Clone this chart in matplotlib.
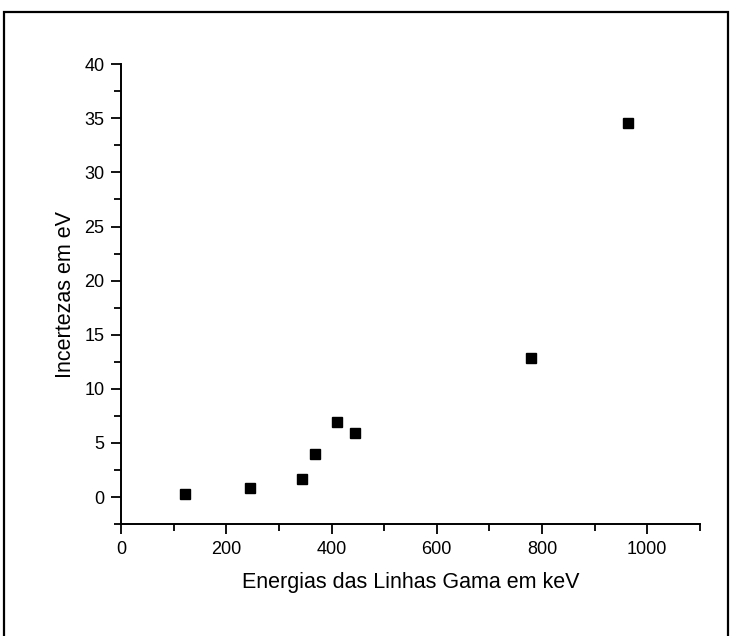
import matplotlib.pyplot as plt
from matplotlib.patches import Rectangle
from matplotlib.ticker import MultipleLocator

plt.rcParams['font.family'] = ['Liberation Sans', 'DejaVu Sans']

# Eu-152 gamma lines (keV) and their uncertainties (eV)
energias = [121.8, 244.7, 344.3, 367.8, 411.1, 444.0, 778.9, 964.1]
incertezas = [0.3, 0.8, 1.65, 3.95, 6.9, 5.9, 12.85, 34.6]

fig = plt.figure(figsize=(7.36, 6.36), dpi=100)
ax = fig.add_axes([0.1644, 0.176, 0.7866, 0.723])

ax.plot(energias, incertezas, linestyle='none', marker='s', color='black', markersize=6.5)

ax.set_xlim(0, 1100)
ax.set_ylim(-2.5, 40)
ax.xaxis.set_major_locator(MultipleLocator(200))
ax.xaxis.set_minor_locator(MultipleLocator(100))
ax.yaxis.set_major_locator(MultipleLocator(5))
ax.yaxis.set_minor_locator(MultipleLocator(2.5))
ax.set_xticks([0, 200, 400, 600, 800, 1000])

for side in ('top', 'right'):
    ax.spines[side].set_visible(False)
for side in ('left', 'bottom'):
    ax.spines[side].set_linewidth(1.4)

ax.tick_params(which='major', direction='out', length=7, width=1.3, labelsize=13, pad=5)
ax.tick_params(which='minor', direction='out', length=5, width=1.3)

ax.set_xlabel('Energias das Linhas Gama em keV', fontsize=15.5, labelpad=10)
ax.set_ylabel('Incertezas em eV', fontsize=15.5, labelpad=6)

# scanned page frame around the chart
fig.patches.append(Rectangle((4 / 736, -0.05), 724 / 736, 1.05 - 12 / 636,
                             transform=fig.transFigure, fill=False,
                             edgecolor='black', linewidth=1.6))

fig.savefig('out.png', dpi=100, facecolor='white')
